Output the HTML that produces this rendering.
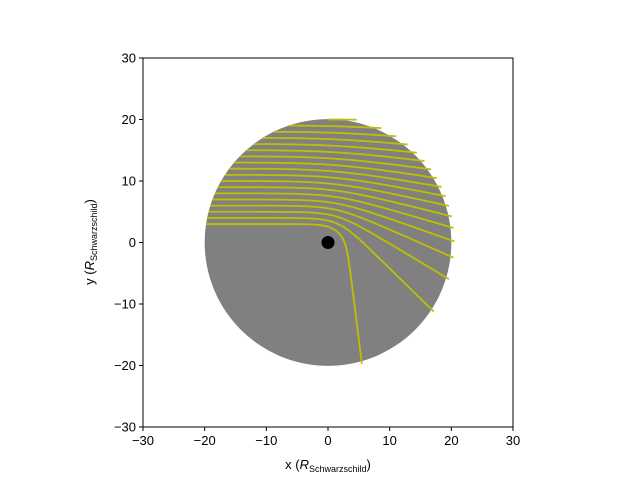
<!DOCTYPE html>
<html><head><meta charset="utf-8"><style>
body{margin:0;background:#fff;}
svg{display:block;font-family:"Liberation Sans","DejaVu Sans",sans-serif;}
</style></head><body>
<svg id="chart" width="640" height="480" viewBox="0 0 640 480"></svg>
<script>
const impactParams=[3,4,5,6,7,8,9,10,11,12,13,14,15,16,17,18,19,20];
const regionRadius=[20];
const blackHole=[0,0];
const xTicks=[-30,-20,-10,0,10,20,30];
const yTicks=[-30,-20,-10,0,10,20,30];
const NS="http://www.w3.org/2000/svg";
const svg=document.getElementById('chart');
const L=143,R=513,T=58,B=427;
const sx=v=>L+(v+30)/60*(R-L);
const sy=v=>B-(v+30)/60*(B-T);
function mk(tag,attrs,parent){const e=document.createElementNS(NS,tag);for(const k in attrs)e.setAttribute(k,attrs[k]);(parent||svg).appendChild(e);return e;}
const plot=mk('g',{});


const clip=mk('clipPath',{id:'cp'});mk('rect',{x:L,y:T,width:R-L,height:B-T},clip);
plot.setAttribute('clip-path','url(#cp)');
const disk=mk('circle',{cx:sx(0),cy:sy(0),r:sx(regionRadius[0])-sx(0),fill:'#808080'},plot);


const K=1.42;
impactParams.forEach((b,i)=>{
  const R0=regionRadius[0];
  let x=-Math.sqrt(Math.max(R0*R0-b*b,0)),y=b,vx=1,vy=0;
  const h2=b*b;
  const pts=[[x,y]];
  const dt=0.005;
  for(let s=0;s<40000;s++){
    let r=Math.hypot(x,y);
    let a=-K*h2/Math.pow(r,5);
    vx+=0.5*a*x*dt;vy+=0.5*a*y*dt;
    x+=vx*dt;y+=vy*dt;
    r=Math.hypot(x,y);
    a=-K*h2/Math.pow(r,5);
    vx+=0.5*a*x*dt;vy+=0.5*a*y*dt;
    if(s%10==0)pts.push([x,y]);
    if(r<1)break;
    if(r>R0+0.5 && (x*vx+y*vy)>0)break;
  }
  pts.push([x,y]);
  const p=mk('polyline',{points:pts.map(q=>sx(q[0]).toFixed(2)+','+sy(q[1]).toFixed(2)).join(' '),fill:'none',stroke:'#bfbf00','stroke-width':1.8},plot);
  
  
});
const bh=mk('circle',{cx:sx(blackHole[0]),cy:sy(blackHole[1]),r:6.5,fill:'#000'},plot);


const frame=mk('rect',{x:L,y:T,width:R-L,height:B-T,fill:'none',stroke:'#000','stroke-width':1});


xTicks.forEach(v=>{
  mk('line',{x1:sx(v),x2:sx(v),y1:B,y2:B+4,stroke:'#000'});
  const t=mk('text',{x:sx(v),y:B+18,'text-anchor':'middle','font-size':13});
  t.textContent=(v<0?'\u2212'+(-v):v);
  
  
});
yTicks.forEach(v=>{
  mk('line',{x1:L-4,x2:L,y1:sy(v),y2:sy(v),stroke:'#000'});
  const t=mk('text',{x:L-7,y:sy(v)+4.5,'text-anchor':'end','font-size':13});
  t.textContent=(v<0?'\u2212'+(-v):v);
  
  
});
const xl=mk('text',{x:328,y:469,'text-anchor':'middle','font-size':13});
xl.innerHTML='x (<tspan font-style="italic">R</tspan><tspan font-size="9" dy="3">Schwarzschild</tspan><tspan dy="-3">)</tspan>';


const yl=mk('text',{x:0,y:0,'text-anchor':'middle','font-size':13,transform:'translate(94,242) rotate(-90)'});
yl.innerHTML='y (<tspan font-style="italic">R</tspan><tspan font-size="9" dy="3">Schwarzschild</tspan><tspan dy="-3">)</tspan>';


</script>
</body></html>
